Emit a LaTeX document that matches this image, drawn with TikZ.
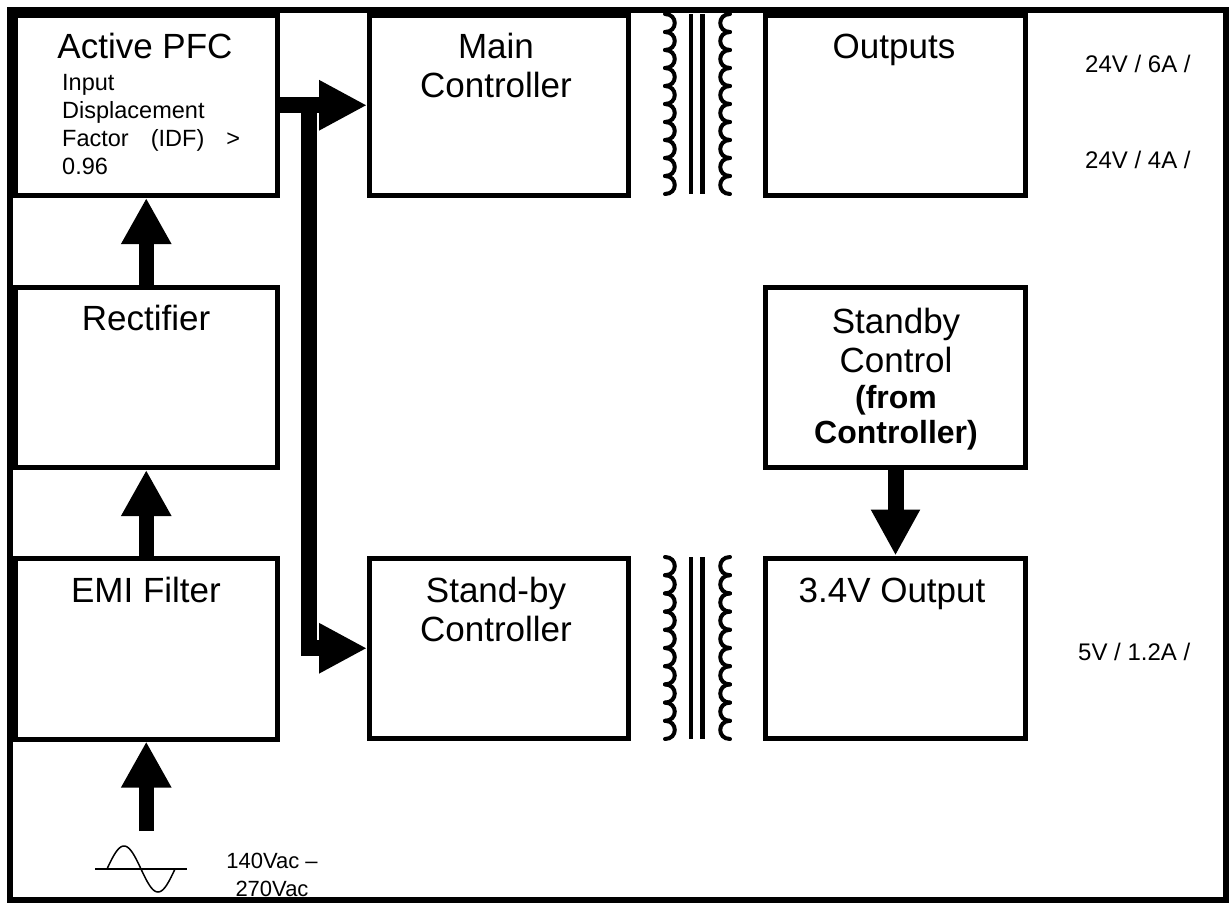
\documentclass[tikz,border=0pt]{standalone}
\usepackage{fontspec}
\setmainfont{Liberation Sans}
\usetikzlibrary{arrows.meta,calc}
\begin{document}
\begin{tikzpicture}[x=1pt,y=-1pt,
  frameline/.style={line width=6pt},
  box/.style={draw, line width=5pt, inner sep=0pt, fill=white},
  ttl/.style={font=\fontsize{35}{39}\selectfont, inner sep=0pt, align=center, anchor=base},
  bttl/.style={font=\fontsize{32}{35}\selectfont\bfseries, inner sep=0pt, align=center, anchor=base},
  sub/.style={font=\fontsize{23.5}{28}\selectfont, inner sep=0pt, align=left, anchor=base west},
  lbl/.style={font=\fontsize{24}{28}\selectfont, inner sep=0pt, anchor=base west},
  fatA/.style={line width=15pt, -{Triangle[length=46pt,width=47pt]}},
  fatB/.style={line width=16pt, line join=miter, -{Triangle[length=48pt,width=47pt]}},
  coil/.style={line width=4pt, line cap=round},
  core/.style={line width=4.5pt}
]
\useasboundingbox (0,0) rectangle (1230,902);
\fill[white] (0,0) rectangle (1230,902);
\draw[frameline] (10,10) rectangle (1225.5,900);

% boxes
\node[box, minimum width=262.5pt, minimum height=180.5pt] (pfc)   at (146.25,105.25) {};
\node[box, minimum width=262.5pt, minimum height=180.5pt] (rect)  at (146.25,377.25) {};
\node[box, minimum width=262.5pt, minimum height=180.5pt] (emi)   at (146.25,648.75) {};
\node[box, minimum width=258.5pt, minimum height=180.5pt] (mainc) at (498.75,105.25) {};
\node[box, minimum width=258.5pt, minimum height=180.5pt] (stbyc) at (498.75,648.25) {};
\node[box, minimum width=260pt,   minimum height=180.5pt] (outs)  at (895.5,105.25) {};
\node[box, minimum width=260pt,   minimum height=180.5pt] (stctl) at (895.5,377.25) {};
\node[box, minimum width=260pt,   minimum height=180.5pt] (out34) at (895.5,648.25) {};

% titles (anchor = baseline of the last line)
\node[ttl] (tpfc)   at (145,58) {Active PFC};
\node[sub] (tpfcs)  at (62,174) {Input\\Displacement\\\makebox[178pt][s]{Factor (IDF) >}\\0.96};
\node[ttl] (trect)  at (146,330) {Rectifier};
\node[ttl] (temi)   at (146,602) {EMI Filter};
\node[ttl] (tmainc) at (496,97) {Main\\Controller};
\node[ttl] (tstbyc) at (496,641) {Stand-by\\Controller};
\node[ttl] (touts)  at (894,58) {Outputs};
\node[ttl] (tstctl) at (896,372) {Standby\\Control};
\node[bttl] (tstctlb) at (896,443) {(from\\Controller)};
\node[ttl] (tout34) at (892,602) {3.4V Output};

% output labels
\node[lbl] (l6a)  at (1085,72)  {24V / 6A /};
\node[lbl] (l4a)  at (1085,168) {24V / 4A /};
\node[lbl] (l12a) at (1078,660) {5V / 1.2A /};
\node[font=\fontsize{22}{28}\selectfont, inner sep=0pt, align=center, anchor=base] (lac) at (272,896) {140Vac –\\270Vac};

% arrows, left column
\coordinate (acin) at (146.25,831);
\draw[fatA] (rect.north) -- (pfc.south);
\draw[fatA] (emi.north) -- (rect.south);
\draw[fatA] (acin) -- (emi.south);

% bus arrows
\coordinate (junc) at (308.5,97.25);
\draw[fatB] (pfc.east) -- (mainc.west);
\draw[fatB] (junc) |- (stbyc.west);

% standby control arrow
\draw[line width=16pt, -{Triangle[length=46pt,width=46pt]}] (stctl.south) -- (out34.north);

% transformers
\foreach \yy/\hh in {14/18, 557/18.2}{
  \foreach \i in {0,...,9}{
    \draw[coil] (665,{\yy+\hh*\i}) .. controls (678,{\yy+\hh*\i}) and (678,{\yy+\hh*(\i+1)}) .. (665,{\yy+\hh*(\i+1)});
    \draw[coil] (730,{\yy+\hh*\i}) .. controls (717,{\yy+\hh*\i}) and (717,{\yy+\hh*(\i+1)}) .. (730,{\yy+\hh*(\i+1)});
  }
  \draw[core] (691,{\yy}) -- (691,{\yy+10*\hh});
  \draw[core] (702.5,{\yy}) -- (702.5,{\yy+10*\hh});
}

% AC source symbol
\draw[line width=1.5pt] (95,869) -- (187,869);
\draw[line width=1.5pt] plot[domain=0:360, samples=73, smooth] ({107+\x/360*68},{869-23*sin(\x)});
\end{tikzpicture}
\end{document}
